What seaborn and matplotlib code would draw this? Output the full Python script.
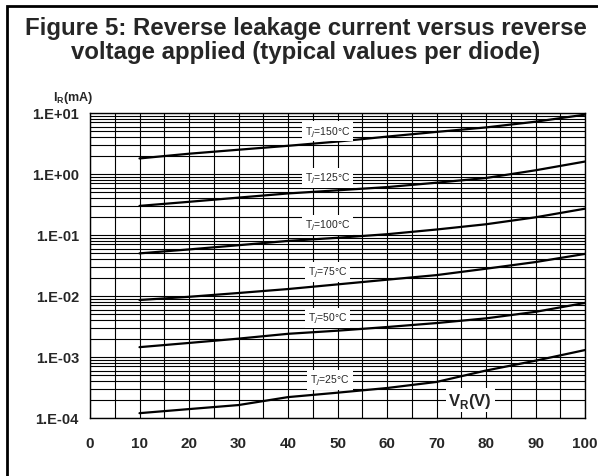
import numpy as np
import pandas as pd
import matplotlib.pyplot as plt
import seaborn as sns
from matplotlib.patches import Rectangle

# ---------------------------------------------------------------------------
# Data (IR in mA vs VR in V)
# ---------------------------------------------------------------------------
vr = [10, 20, 30, 40, 50, 60, 70, 80, 90, 100]
ir_150 = [1.8, 2.15, 2.5, 2.9, 3.4, 4.1, 4.9, 5.8, 7.2, 9.4]
ir_125 = [0.30, 0.35, 0.41, 0.48, 0.54, 0.61, 0.72, 0.86, 1.15, 1.6]
ir_100 = [0.050, 0.058, 0.068, 0.080, 0.090, 0.103, 0.123, 0.150, 0.195, 0.27]
ir_75 = [0.0086, 0.0097, 0.0112, 0.013, 0.0155, 0.0185, 0.022, 0.028, 0.036, 0.049]
ir_50 = [0.00145, 0.0017, 0.0020, 0.0024, 0.0027, 0.0031, 0.0036, 0.0043, 0.0055, 0.0077]
ir_25 = [0.00012, 0.00014, 0.000163, 0.00022, 0.00026, 0.00031, 0.00039, 0.0006, 0.00087, 0.0013]

temps = ["150", "125", "100", "75", "50", "25"]
label_y = [5.0, 0.86, 0.146, 0.0247, 0.0044, 0.00042]
label_x = [48, 48, 48, 48, 48, 48.5]

yticks = [1e-4, 1e-3, 1e-2, 1e-1, 1e0, 1e1]
ytick_labels = ["1.E-04", "1.E-03", "1.E-02", "1.E-01", "1.E+00", "1.E+01"]
xticks = [0, 10, 20, 30, 40, 50, 60, 70, 80, 90, 100]

series = [ir_150, ir_125, ir_100, ir_75, ir_50, ir_25]
df = pd.concat(
    [pd.DataFrame({"VR": vr, "IR": s, "Tj": t}) for s, t in zip(series, temps)],
    ignore_index=True,
)

sns.set_style("white")
plt.rcParams["font.family"] = ["Liberation Sans", "DejaVu Sans"]

fig = plt.figure(figsize=(5.98, 4.77), dpi=100)
ax = fig.add_axes([90 / 598, 1 - 419 / 477, 495 / 598, 305 / 477])

sns.lineplot(data=df, x="VR", y="IR", hue="Tj", palette=["black"] * 6,
             linewidth=1.6, legend=False, ax=ax)

ax.set_yscale("log")
ax.set_xlim(0, 100)
ax.set_ylim(1e-4, 1e1)

# grid: vertical every 5 V, log minor horizontal
ax.set_xticks(np.arange(0, 101, 5), minor=True)
ax.set_xticks(xticks)
ax.set_xticklabels([str(x) for x in xticks], fontsize=11, fontweight="bold")
ax.set_yticks(yticks)
ax.set_yticklabels(ytick_labels, fontsize=10.5, fontweight="bold")
ax.grid(True, which="both", color="black", linewidth=0.8)
ax.tick_params(which="both", length=0)
ax.tick_params(axis="y", pad=8)
ax.tick_params(axis="x", pad=13)
for sp in ax.spines.values():
    sp.set_color("black")
    sp.set_linewidth(1.0)
ax.set_xlabel("")
ax.set_ylabel("")

for t, lx, ly in zip(temps, label_x, label_y):
    ax.text(lx, ly, f"T$_j$={t}°C", fontsize=7.5, ha="center", va="center",
            bbox=dict(facecolor="white", edgecolor="none", pad=2), zorder=5)

ax.text(76.8, 0.000197, "V$_{\\mathregular{R}}$(V)", fontsize=12, fontweight="bold",
        ha="center", va="center",
        bbox=dict(facecolor="white", edgecolor="none", pad=2), zorder=5)

fig.text(53 / 598, 1 - 98 / 477, "I$_{\\mathregular{R}}$(mA)", fontsize=9,
         fontweight="bold", ha="left", va="center")

fig.text(306 / 598, 1 - 28 / 477, "Figure 5: Reverse leakage current versus reverse",
         fontsize=17.3, fontweight="bold", ha="center", va="center")
fig.text(306 / 598, 1 - 52 / 477, "voltage applied (typical values per diode)",
         fontsize=17.3, fontweight="bold", ha="center", va="center")

# outer frame
fig.patches.append(Rectangle((7 / 598, -0.05), 1.0, 1 - 7 / 477 + 0.05,
                             transform=fig.transFigure, fill=False,
                             edgecolor="black", linewidth=2))

fig.savefig("out.png", dpi=100)
